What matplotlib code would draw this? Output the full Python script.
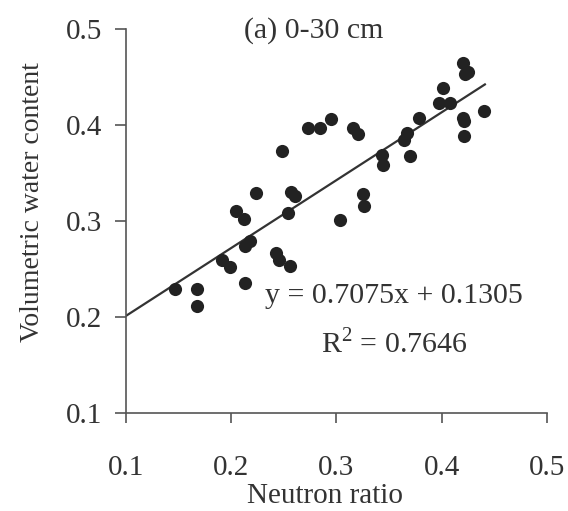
import matplotlib
matplotlib.use("Agg")
import matplotlib.pyplot as plt
import numpy as np

plt.rcParams['font.family'] = ['Liberation Serif', 'DejaVu Serif']
plt.rcParams['mathtext.fontset'] = 'custom'
plt.rcParams['mathtext.rm'] = 'Liberation Serif'

neutron_ratio = [0.147, 0.167, 0.167, 0.213, 0.191, 0.199, 0.213, 0.218, 0.205, 0.212,
                 0.224, 0.243, 0.245, 0.256, 0.254, 0.257, 0.261, 0.248, 0.273, 0.284,
                 0.295, 0.316, 0.320, 0.325, 0.326, 0.303, 0.343, 0.344, 0.364, 0.367,
                 0.370, 0.378, 0.397, 0.401, 0.408, 0.420, 0.422, 0.425, 0.420, 0.421,
                 0.421, 0.440]
water_content = [0.229, 0.229, 0.212, 0.235, 0.260, 0.252, 0.274, 0.279, 0.311, 0.302,
                 0.329, 0.267, 0.259, 0.253, 0.309, 0.330, 0.326, 0.373, 0.397, 0.397,
                 0.406, 0.397, 0.391, 0.328, 0.316, 0.301, 0.369, 0.359, 0.385, 0.392,
                 0.368, 0.407, 0.423, 0.439, 0.423, 0.465, 0.453, 0.455, 0.408, 0.404,
                 0.389, 0.415]
slope = 0.7075
intercept = 0.1305
r_squared = 0.7646
fit_range = [0.1, 0.441]
x_ticks = [0.1, 0.2, 0.3, 0.4, 0.5]
y_ticks = [0.1, 0.2, 0.3, 0.4, 0.5]

fig = plt.figure(figsize=(5.68, 5.11), dpi=100)
ax = fig.add_axes([0.2218, 0.1918, 0.7412, 0.7509])

txt = '#333333'
ax.scatter(neutron_ratio, water_content, s=90, color='#222222', zorder=3, linewidths=0)
fx = np.array(fit_range)
ax.plot(fx, slope * fx + intercept, color='#333333', lw=1.6, zorder=2)

ax.set_xlim(0.1, 0.5)
ax.set_ylim(0.1, 0.5)
ax.set_xticks(x_ticks)
ax.set_yticks(y_ticks)
ax.set_xticklabels([f'{v:.1f}' for v in x_ticks])
ax.set_yticklabels([f'{v:.1f}' for v in y_ticks])
for s in ['top', 'right']:
    ax.spines[s].set_visible(False)
for s in ['left', 'bottom']:
    ax.spines[s].set_color('#555555')
    ax.spines[s].set_linewidth(1.2)
ax.tick_params(axis='x', direction='out', length=7, width=1.2, color='#555555',
               labelsize=21, labelcolor=txt, pad=23.5)
ax.tick_params(axis='y', direction='out', length=8, width=1.2, color='#555555',
               labelsize=21, labelcolor=txt, pad=9)

ax.set_xlabel('Neutron ratio', fontsize=21, color=txt, va='baseline')
ax.set_ylabel('Volumetric water content', fontsize=20, color=txt, va='center')
ax.xaxis.set_label_coords(0.473, -0.2346)
ax.yaxis.set_label_coords(-0.221, 0.55)

ax.text(0.278, 0.499, '(a) 0-30 cm', fontsize=21.5, color=txt, ha='center', va='center')
ax.text(0.232, 0.222, f'y = {slope:.4f}x + {intercept:.4f}', fontsize=21.5, color=txt,
        ha='left', va='center')
ax.text(0.2855, 0.172, f'R$^2$ = {r_squared:.4f}', fontsize=21.5, color=txt,
        ha='left', va='center')

fig.savefig('out.png', dpi=100)
